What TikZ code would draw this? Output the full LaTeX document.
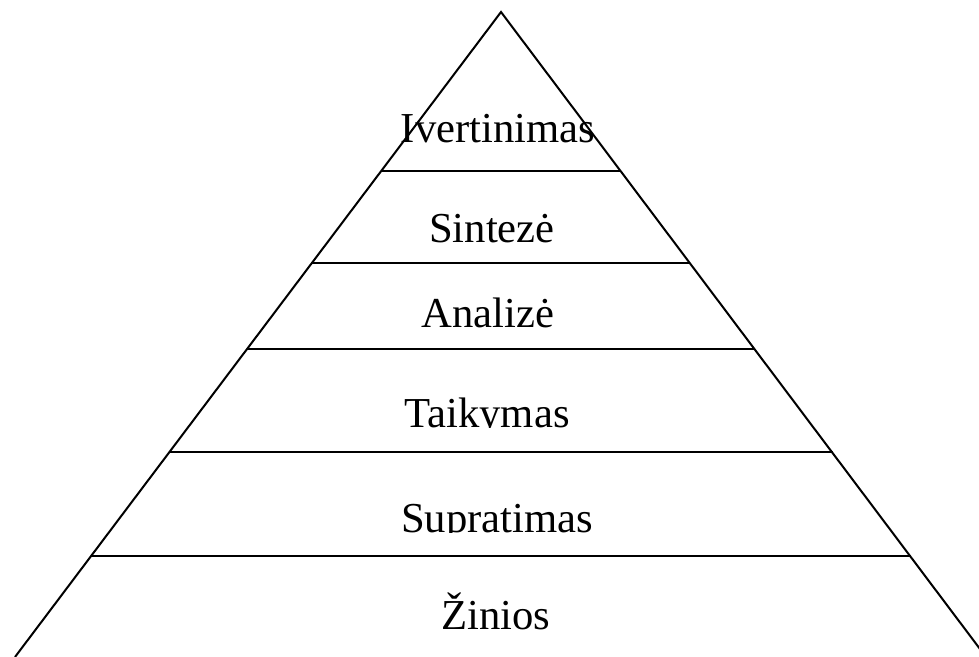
\documentclass[tikz,border=0pt]{standalone}
\usepackage{fontspec}
\setmainfont{Liberation Serif}
\usetikzlibrary{calc}

\tikzset{
  level/.style={font=\fontsize{32}{38}\selectfont, anchor=base, inner sep=0pt},
  side/.style={line width=1.5pt},
  divider/.style={line width=1pt}
}

\begin{document}
\begin{tikzpicture}[x=0.75pt,y=-0.75pt]

% Frame of the page
\clip (0,0) rectangle (979,657);

% Pyramid sides
\coordinate (apex) at (501,12);
\coordinate (baseL) at (15,657);
\coordinate (baseR) at (986,657);
\draw[side] (baseL)--(apex)--(baseR);

% Dividing lines between the levels
\foreach \y in {171,263,349,452,556}
{
\pgfmathsetmacro{\hw}{0.7535*(\y-12)}
\draw[divider] (501-\hw,\y)--(501+\hw,\y);
}

% Level names
\node[level] (ivert) at (498,142){Ivertinimas};
\node[level] (sint) at (492,242){Sintezė};
\node[level] (anal) at (488,327){Analizė};
\begin{scope}
\clip (300,380) rectangle (700,427);
\node[level] (taik) at (487,427){Taikymas};
\end{scope}
\begin{scope}
\clip (300,480) rectangle (700,532);
\node[level] (supr) at (497,532){Supratimas};
\end{scope}
\node[level] (zin) at (496,629){Žinios};

\end{tikzpicture}
\end{document}
